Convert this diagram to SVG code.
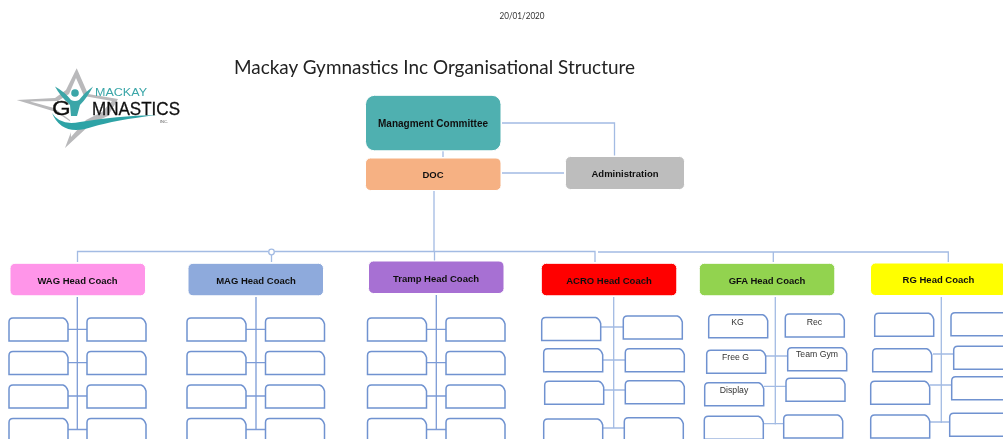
<svg xmlns="http://www.w3.org/2000/svg" width="1003" height="439" viewBox="0 0 1003 439">
<style>
text{font-family:"Liberation Sans",Arial,sans-serif}
.h{font-size:9.500px;font-weight:bold;fill:#111;text-anchor:middle}
.s{font-size:8.700px;fill:#333;text-anchor:middle}
.n{stroke:#fff;stroke-width:1}
.b{fill:#fff;stroke:#6f92d0;stroke-width:1.500}
.c{fill:none;stroke:#a3bbe3;stroke-width:1.300}
.d{fill:none;stroke:#7c9bd6;stroke-width:1.300}
</style>
<defs>
<path id="sub" class="b" d="M0 23V4Q0 0 4 0H54Q57.500 1 59 6V23Z"/>
<filter id="soft" filterUnits="userSpaceOnUse" x="0" y="0" width="1003" height="439"><feGaussianBlur stdDeviation="0.350"/></filter>
</defs>
<rect width="1003" height="439" fill="#fff"/>
<g filter="url(#soft)">
<text x="522" y="19" font-size="8.500" fill="#333" text-anchor="middle" style="font-family:Lato,'Liberation Sans',sans-serif" textLength="45" lengthAdjust="spacingAndGlyphs">20/01/2020</text>
<text x="234" y="74" font-size="20" fill="#222" style="font-family:Lato,'Liberation Sans',sans-serif" textLength="401" lengthAdjust="spacingAndGlyphs">Mackay Gymnastics Inc Organisational Structure</text>

<g id="logo">
<path d="M76.700 68.300L88 94 118 99 108 116 92 123 65 148 74 124 56 112 16.700 100 55 98 66 90Z" fill="#b9b9bb"/>
<path d="M76 78L84 96 112 101 102 112 86 120 71 137 70 120 54 108 30 101.500 58 101 69 94Z" fill="#fff"/>
<path d="M55 86.500Q65 92 71 100 75 102 79 100 85 92 93 86.500 87 98 80 105L77 116H71L70 105Q60 96 55 86.500Z" fill="#3aa6a8"/>
<circle cx="75" cy="93" r="3.800" fill="#3aa6a8"/>
<path d="M52 113Q60 126 80 122 115 116 157 115 115 120 92 127 62 137 52 113Z" fill="#2fa3a6"/>
<text x="95" y="96" font-size="11.500" fill="#3aa6a8" textLength="52" lengthAdjust="spacingAndGlyphs">MACKAY</text>
<text transform="translate(52 115) scale(1.200 1)" font-size="20" fill="#111" stroke="#111" stroke-width="0.300">G</text>
<text x="92" y="115" font-size="19" fill="#111" stroke="#111" stroke-width="0.300" textLength="88" lengthAdjust="spacingAndGlyphs">MNASTICS</text>
<text x="160" y="123" font-size="4" fill="#555">INC.</text>
</g>

<g id="connectors">
<path class="c" d="M502 123H614.500V155.500M443 151V157M502 173H564"/>
<path class="c" d="M434 191V251.500M434.500 251.500V261"/>
<path class="c" d="M77.500 262V251.500H268M274.500 251.500H422M420 251.500H595V262M598 252H948.300V262M773.300 252V262M271.500 255V262"/>
<circle class="c" cx="271.500" cy="252" r="2.800"/>
<path class="d" d="M77.300 297V429.500M68 329.300H87M68 362.700H87M68 396H87M68 429.500H87"/>
<path class="d" d="M256 297V429.500M246 329.300H265M246 362.700H265M246 396H265M246 429.500H265"/>
<path class="d" d="M436.300 295V429.500M426.300 329.300H446M426.300 362.700H446M426.300 396H446M426.300 429.500H446"/>
<path class="c" d="M613.700 297V428M601 327H623M603 360H625M604 390H625M603 428H624"/>
<path class="c" d="M775.300 297V424.500M766 356H788M764 386.300H786M763 423.700H784"/>
<path class="c" d="M941.300 297V423M933 354H954M930 385H952M930 422H950"/>
</g>

<g id="management-committee"><rect class="n" x="365.500" y="95.300" width="135.500" height="55.500" rx="9" fill="#50b0b0"/><text class="h" style="font-size:10px" x="433" y="126.500">Managment Committee</text></g>
<g id="doc"><rect class="n" x="365.500" y="158" width="135.500" height="32.500" rx="5" fill="#f6b183"/><text class="h" x="433" y="177.500">DOC</text></g>
<g id="administration"><rect class="n" x="565.500" y="156.500" width="119" height="33" rx="5" fill="#bdbdbd"/><text class="h" x="625" y="176.500">Administration</text></g>

<g id="wag-head-coach"><rect class="n" x="10" y="263.300" width="135.500" height="32.500" rx="5" fill="#ff95e9"/><text class="h" x="77.500" y="283.500">WAG Head Coach</text></g>
<g id="mag-head-coach"><rect class="n" x="188" y="263.300" width="135.500" height="32.500" rx="5" fill="#8eaadc"/><text class="h" x="256" y="283.500">MAG Head Coach</text></g>
<g id="tramp-head-coach"><rect class="n" x="368.500" y="261" width="135.500" height="32.500" rx="5" fill="#a76fd3"/><text class="h" x="436" y="281.500">Tramp Head Coach</text></g>
<g id="acro-head-coach"><rect class="n" x="541.300" y="263.300" width="135.500" height="32.500" rx="5" fill="#ff0000"/><text class="h" x="609" y="283.500">ACRO Head Coach</text></g>
<g id="gfa-head-coach"><rect class="n" x="699.300" y="263.300" width="135.500" height="32.500" rx="5" fill="#92d34f"/><text class="h" x="767" y="283.500">GFA Head Coach</text></g>
<g id="rg-head-coach"><rect class="n" x="870.500" y="263" width="136" height="32.500" rx="5" fill="#ffff00"/><text class="h" x="938.500" y="283">RG Head Coach</text></g>

<g id="wag-staff">
<use href="#sub" x="9" y="318"/><use href="#sub" x="87" y="318"/>
<use href="#sub" x="9" y="351.500"/><use href="#sub" x="87" y="351.500"/>
<use href="#sub" x="9" y="385"/><use href="#sub" x="87" y="385"/>
<use href="#sub" x="9" y="418.500"/><use href="#sub" x="87" y="418.500"/>
</g>
<g id="mag-staff">
<use href="#sub" x="187" y="318"/><use href="#sub" x="265.500" y="318"/>
<use href="#sub" x="187" y="351.500"/><use href="#sub" x="265.500" y="351.500"/>
<use href="#sub" x="187" y="385"/><use href="#sub" x="265.500" y="385"/>
<use href="#sub" x="187" y="418.500"/><use href="#sub" x="265.500" y="418.500"/>
</g>
<g id="tramp-staff">
<use href="#sub" x="367.500" y="318"/><use href="#sub" x="446" y="318"/>
<use href="#sub" x="367.500" y="351.500"/><use href="#sub" x="446" y="351.500"/>
<use href="#sub" x="367.500" y="385"/><use href="#sub" x="446" y="385"/>
<use href="#sub" x="367.500" y="418.500"/><use href="#sub" x="446" y="418.500"/>
</g>
<g id="acro-staff">
<use href="#sub" x="541.700" y="317.500"/><use href="#sub" x="623.300" y="316"/>
<use href="#sub" x="543.700" y="348.700"/><use href="#sub" x="625.300" y="348.700"/>
<use href="#sub" x="544.700" y="381.300"/><use href="#sub" x="625.300" y="380.700"/>
<use href="#sub" x="543.700" y="419"/><use href="#sub" x="624.300" y="417.700"/>
</g>
<g id="gfa-kg"><use href="#sub" x="708.700" y="314.700"/><text class="s" x="737.500" y="324.500">KG</text></g>
<g id="gfa-rec"><use href="#sub" x="785.300" y="314"/><text class="s" x="814.500" y="324.500">Rec</text></g>
<g id="gfa-free-g"><use href="#sub" x="706.700" y="350.300"/><text class="s" x="735.500" y="359.500">Free G</text></g>
<g id="gfa-team-gym"><use href="#sub" x="787.700" y="347.700"/><text class="s" x="817" y="357">Team Gym</text></g>
<g id="gfa-display"><use href="#sub" x="704.700" y="382.700"/><text class="s" x="734" y="392.500">Display</text></g>
<g id="gfa-staff">
<use href="#sub" x="786" y="378.300"/>
<use href="#sub" x="704.300" y="416.300"/><use href="#sub" x="783.700" y="415"/>
</g>
<g id="rg-staff">
<use href="#sub" x="874.700" y="313.300"/><use href="#sub" x="951" y="312.700"/>
<use href="#sub" x="872.700" y="348.700"/><use href="#sub" x="953.700" y="346.300"/>
<use href="#sub" x="870.700" y="381.300"/><use href="#sub" x="951.700" y="376.700"/>
<use href="#sub" x="870.700" y="415"/><use href="#sub" x="949.700" y="413.300"/>
</g>
</g>
</svg>
